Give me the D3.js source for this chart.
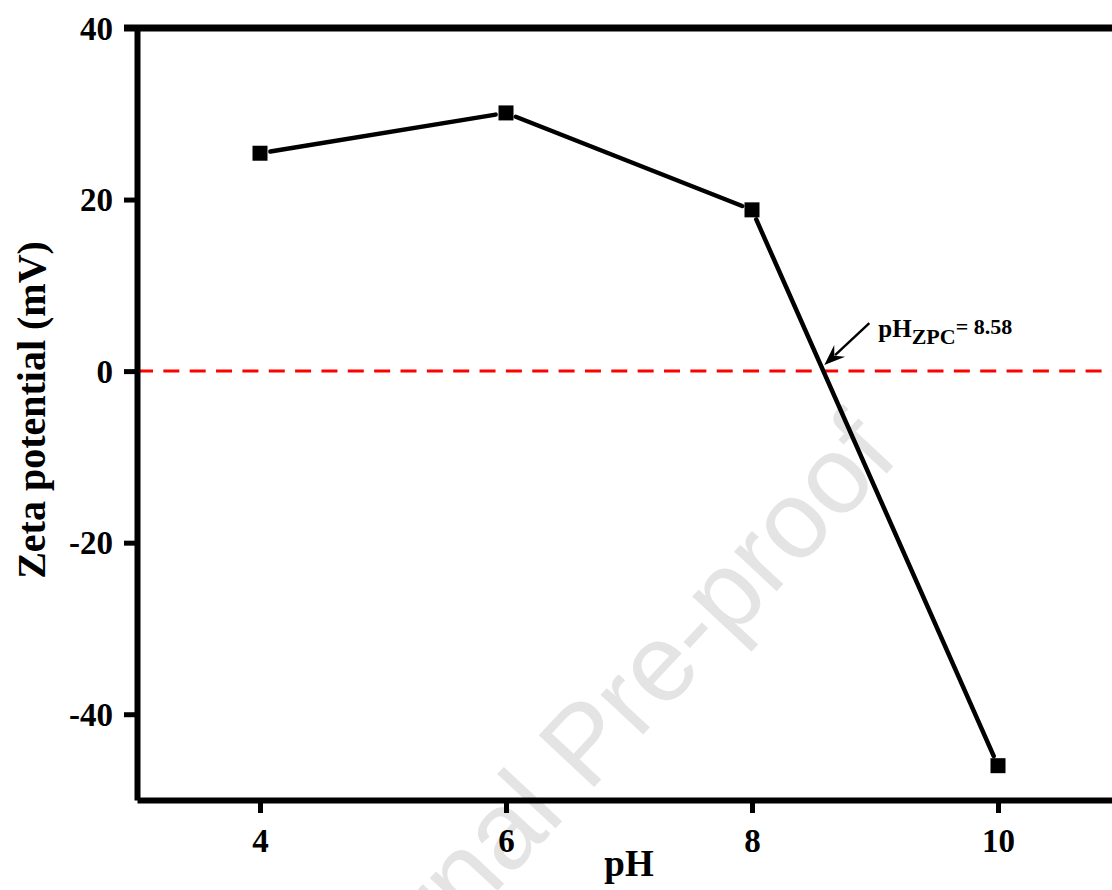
<!DOCTYPE html>
<html>
<head>
<meta charset="utf-8">
<script src="https://cdn.jsdelivr.net/npm/d3@7"></script>
<style>
	html, body { margin: 0; padding: 0; background: #fff; }
	svg { display: block; }
	text { font-family: "Liberation Serif", "Times New Roman", serif; font-weight: bold; }
</style>
</head>
<body>
<div class="container"></div>
<script>
// data
var ph_values = [4, 6, 8, 10];
var zeta_values = [25.4, 30.1, 18.8, -46.0];
var x_ticks = [4, 6, 8, 10];
var y_ticks = [-40, -20, 0, 20, 40];
var ph_zpc = 8.58;

var W = 1112, H = 890;
var margin = {top: 28, left: 137};
var plot_w = 984, plot_h = 772;

var x_scale = d3.scaleLinear()
	.domain([3, 11])
	.range([margin.left, margin.left + plot_w]);

var y_scale = d3.scaleLinear()
	.domain([-50, 40])
	.range([margin.top + plot_h, margin.top]);

var svg = d3.select(".container").append("svg")
	.attr("width", W)
	.attr("height", H);

// watermark (drawn first so everything sits on top)
svg.append("text")
	.attr("transform", "translate(611,769) rotate(-47)")
	.attr("text-anchor", "middle")
	.style("font-family", "'Liberation Sans', Arial, sans-serif")
	.style("font-weight", "normal")
	.style("font-size", "110px")
	.attr("fill", "#e4e4e4")
	.text("Journal Pre-proof");

// zero line
svg.append("line")
	.attr("x1", x_scale(3)).attr("x2", x_scale(11))
	.attr("y1", y_scale(0)).attr("y2", y_scale(0))
	.attr("stroke", "#ff0000")
	.attr("stroke-width", 3)
	.attr("stroke-dasharray", "16,10.35");

// axes
var fmt = function(d) { return String(d); };

var x_axis = d3.axisBottom(x_scale)
	.tickValues(x_ticks)
	.tickFormat(fmt)
	.tickSize(13)
	.tickSizeOuter(0)
	.tickPadding(16);

var y_axis = d3.axisLeft(y_scale)
	.tickValues(y_ticks)
	.tickFormat(fmt)
	.tickSize(13)
	.tickSizeOuter(0)
	.tickPadding(11);

var gx = svg.append("g")
	.attr("transform", "translate(0," + (margin.top + plot_h) + ")")
	.call(x_axis);

var gy = svg.append("g")
	.attr("transform", "translate(" + margin.left + ",0)")
	.call(y_axis);

[gx, gy].forEach(function(g) {
	g.select(".domain").attr("stroke", "#000").attr("stroke-width", 6);
	g.selectAll(".tick line").attr("stroke", "#000").attr("stroke-width", 5);
	g.selectAll(".tick text")
		.attr("fill", "#000")
		.style("font-size", "33px");
});
gy.selectAll(".tick text").attr("dy", "0.34em");

// top and right frame
svg.append("line")
	.attr("x1", margin.left - 13).attr("x2", x_scale(11) + 3)
	.attr("y1", y_scale(40)).attr("y2", y_scale(40))
	.attr("stroke", "#000").attr("stroke-width", 7);
svg.append("line")
	.attr("x1", x_scale(11)).attr("x2", x_scale(11))
	.attr("y1", y_scale(40)).attr("y2", y_scale(-50))
	.attr("stroke", "#000").attr("stroke-width", 6);

// connecting segments, with a small gap before each marker
var gap = 10.5;
for (var i = 0; i < ph_values.length - 1; i++) {
	var x1 = x_scale(ph_values[i]), y1 = y_scale(zeta_values[i]);
	var x2 = x_scale(ph_values[i + 1]), y2 = y_scale(zeta_values[i + 1]);
	var len = Math.sqrt((x2 - x1) * (x2 - x1) + (y2 - y1) * (y2 - y1));
	var ux = (x2 - x1) / len, uy = (y2 - y1) / len;
	svg.append("line")
		.attr("x1", x1 + ux * gap).attr("y1", y1 + uy * gap)
		.attr("x2", x2 - ux * gap).attr("y2", y2 - uy * gap)
		.attr("stroke", "#000")
		.attr("stroke-width", 4.5)
		.attr("stroke-linecap", "round");
}

// markers
var msize = 15;
svg.selectAll("rect.pt")
	.data(ph_values)
	.enter()
	.append("rect")
	.attr("class", "pt")
	.attr("x", function(d) { return x_scale(d) - msize / 2; })
	.attr("y", function(d, i) { return y_scale(zeta_values[i]) - msize / 2; })
	.attr("width", msize)
	.attr("height", msize)
	.attr("fill", "#000");

// arrow to the zero crossing
var zx = x_scale(ph_zpc), zy = y_scale(0);
var tip = [zx + 1, zy - 6], tail = [zx + 46, zy - 48];
var adx = tail[0] - tip[0], ady = tail[1] - tip[1];
var alen = Math.sqrt(adx * adx + ady * ady);
var ax = adx / alen, ay = ady / alen;
var head_l = 21, head_w = 8;
svg.append("line")
	.attr("x1", tail[0]).attr("y1", tail[1])
	.attr("x2", tip[0] + ax * head_l * 0.7).attr("y2", tip[1] + ay * head_l * 0.7)
	.attr("stroke", "#000")
	.attr("stroke-width", 2.4);
svg.append("path")
	.attr("d", "M" + tip[0] + "," + tip[1] +
		"L" + (tip[0] + ax * head_l - ay * head_w) + "," + (tip[1] + ay * head_l + ax * head_w) +
		"L" + (tip[0] + ax * head_l * 0.65) + "," + (tip[1] + ay * head_l * 0.65) +
		"L" + (tip[0] + ax * head_l + ay * head_w) + "," + (tip[1] + ay * head_l - ax * head_w) + "Z")
	.attr("fill", "#000");

var label = svg.append("text")
	.attr("x", zx + 55)
	.attr("y", zy - 34)
	.attr("fill", "#000");
label.append("tspan").style("font-size", "25px").text("pH");
label.append("tspan").style("font-size", "22px").attr("dy", 7).text("ZPC");
label.append("tspan").style("font-size", "22px").attr("dy", -10).text("= 8.58");

// axis titles
svg.append("text")
	.attr("x", margin.left + plot_w / 2)
	.attr("y", 876)
	.attr("text-anchor", "middle")
	.style("font-size", "37px")
	.attr("fill", "#000")
	.text("pH");

svg.append("text")
	.attr("transform", "translate(45," + (margin.top + plot_h / 2 - 4) + ") rotate(-90)")
	.attr("text-anchor", "middle")
	.style("font-size", "40px")
	.attr("fill", "#000")
	.text("Zeta potential (mV)");
</script>
</body>
</html>
